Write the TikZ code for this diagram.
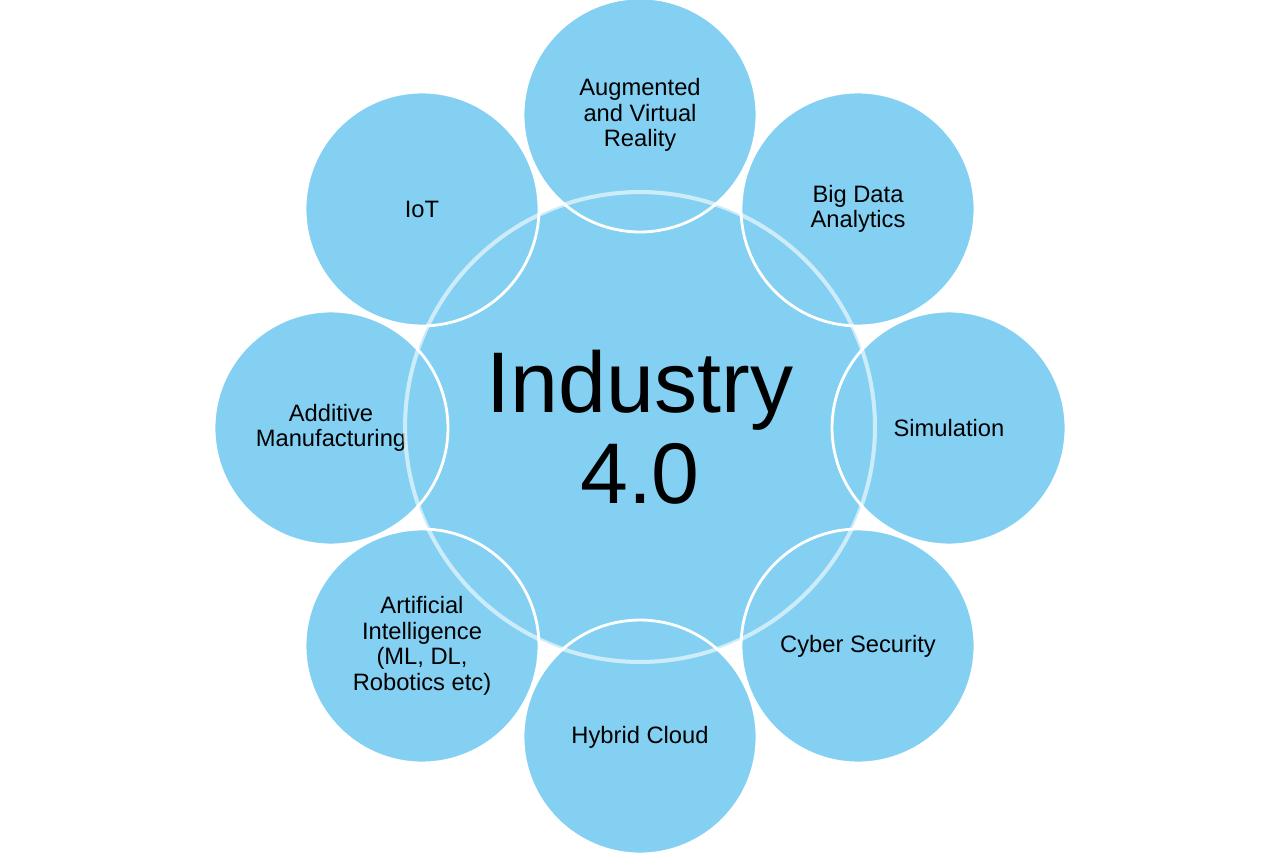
\documentclass[tikz,border=0pt]{standalone}
\usepackage{fontspec}
\setmainfont{Liberation Sans}
\definecolor{skyfill}{RGB}{132,208,242}
\tikzset{
  topic/.style={circle, fill=skyfill, minimum size=4.68cm, inner sep=0pt,
    align=center, font=\fontsize{13.5}{14.6}\selectfont},
  hub/.style={circle, fill=skyfill, minimum size=9.4cm, inner sep=0pt,
    align=center, font=\fontsize{49}{51.5}\selectfont},
  rim/.style={draw=white, line width=1.6pt},
  hubrim/.style={draw=white, draw opacity=0.6, line width=2.3pt},
}

\begin{document}
\begin{tikzpicture}[x=0.02cm, y=0.02cm]
\useasboundingbox (0,0) rectangle (1280,856);

\node[hub] (core) at (640,429) {Industry\\4.0};

\node[topic] (ar) at (640,741) {Augmented\\and Virtual\\Reality};
\node[topic] (bigdata) at (858,647) {Big Data\\Analytics};
\node[topic] (sim) at (949,428) {Simulation};
\node[topic] (cyber) at (858,210) {Cyber Security};
\node[topic] (hybrid) at (640,119) {Hybrid Cloud};
\node[topic] (ai) at (422,210) {Artificial\\Intelligence\\(ML, DL,\\Robotics etc)};
\node[topic] (additive) at (331,428) {Additive\\Manufacturing};
\node[topic] (iot) at (422,647) {IoT};

% rims
\draw[hubrim] (core.center) circle[radius=4.7cm];
\foreach \t in {ar,bigdata,sim,cyber,hybrid,ai,additive,iot}
  \draw[rim] (\t.center) circle[radius=2.34cm];

\end{tikzpicture}
\end{document}
